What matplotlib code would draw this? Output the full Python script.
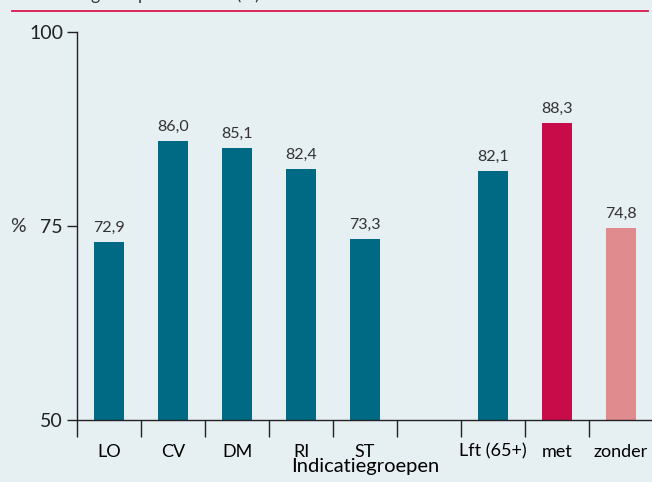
import numpy as np
import matplotlib
matplotlib.use('Agg')
from matplotlib import pyplot as plt
from matplotlib.lines import Line2D

# data
groepen = ['LO', 'CV', 'DM', 'RI', 'ST', '', 'Lft (65+)', 'met', 'zonder']
waarden = [72.9, 86.0, 85.1, 82.4, 73.3, np.nan, 82.1, 88.3, 74.8]
kleuren = ['#006a85', '#006a85', '#006a85', '#006a85', '#006a85', '#006a85',
           '#006a85', '#c80c4a', '#e08b8d']
yticks = [50, 75, 100]

bg = '#e6eff2'
plt.rcParams['font.family'] = ['Lato', 'DejaVu Sans']
plt.rcParams['text.color'] = '#333333'

fig = plt.figure(figsize=(6.52, 4.82), dpi=100, facecolor=bg)
ax = fig.add_axes([77/652, 62/482, 576/652, 388/482])
ax.set_facecolor(bg)

x = np.arange(len(groepen)) + 0.5
ax.bar(x, waarden, width=0.48, color=kleuren, zorder=2)

for xi, v in zip(x, waarden):
    if np.isnan(v):
        continue
    ax.text(xi, v + 0.9, f'{v:.1f}'.replace('.', ','), ha='center', va='bottom',
            fontsize=11.5, color='#333333')

ax.set_xlim(0, len(groepen))
ax.set_ylim(50, 100)
ax.set_yticks(yticks)
ax.tick_params(axis='y', length=7, width=1, labelsize=14, pad=3, colors='#222222')

# category labels in the middle, tick marks on the boundaries
ax.set_xticks(x)
ax.set_xticklabels(groepen)
ax.set_xticks(np.arange(len(groepen) + 1), minor=True)
ax.tick_params(axis='x', which='major', length=0, labelsize=13, pad=17)
ax.tick_params(axis='x', which='minor', length=12, width=1, color='#222222')

for s in ['top', 'right']:
    ax.spines[s].set_visible(False)
for s in ['left', 'bottom']:
    ax.spines[s].set_color('#222222')
    ax.spines[s].set_linewidth(1)

ax.set_xlabel('Indicatiegroepen', fontsize=14.5, labelpad=-1)
fig.text(10/652, 1 - 226/482, '%', fontsize=14, va='center', ha='left')

# title (cut off at the top) and red rule
fig.text(12/652, 1.0, 'Vaccinatiegraad per indicatie (%)', fontsize=12.5,
         va='baseline', ha='left', color='#333333')
fig.add_artist(Line2D([12/652, 648/652], [1 - 10.5/482, 1 - 10.5/482],
                      color='#d8164c', linewidth=1.3))

plt.savefig('out.png', dpi=100, facecolor=bg)
